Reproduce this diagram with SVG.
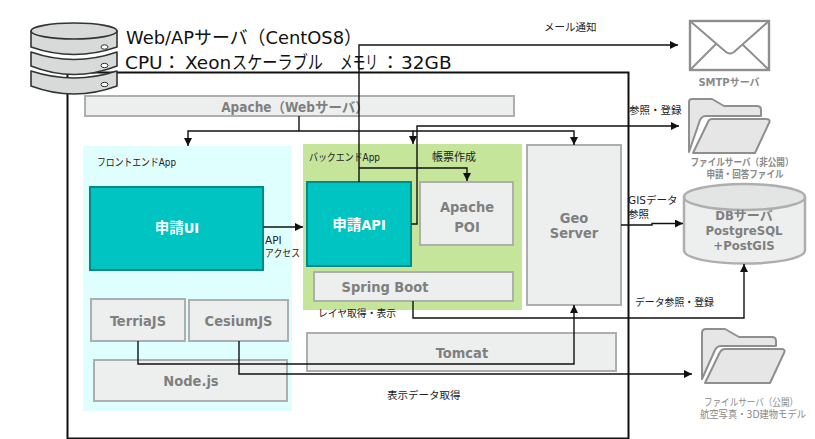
<svg xmlns="http://www.w3.org/2000/svg" width="815" height="439" viewBox="0 0 815 439">
<style>
text{font-family:"DejaVu Sans","Noto Sans CJK JP",sans-serif}
.g{fill:#edefef;stroke:#aeaeae;stroke-width:2}
.gt{font-family:"DejaVu Sans Condensed","DejaVu Sans","Noto Sans CJK JP",sans-serif;fill:#7f7f7f;font-weight:700;font-size:14.500px;text-anchor:middle}
.t{fill:#00c4c2;stroke:#008b8b;stroke-width:2}
.wt{font-family:"DejaVu Sans Condensed","DejaVu Sans","Noto Sans CJK JP",sans-serif;fill:#fff;font-weight:700;font-size:14.500px;text-anchor:middle}
.l{fill:#222;font-size:10.500px}
.c{fill:none;stroke:#111;stroke-width:1.400}
.k{fill:#d8d9d9;stroke:#333;stroke-width:1.600;stroke-linejoin:round}
.f{fill:#e6e6e6;stroke:#8f8f8f;stroke-width:2;stroke-linejoin:round}
.cap{fill:#8a8a8a;font-weight:700;font-size:10px;text-anchor:middle}
.h{fill:#fff;stroke:#333}
</style>
<defs>
<marker id="a" markerUnits="userSpaceOnUse" markerWidth="9" markerHeight="9" refX="8" refY="4" orient="auto"><path d="M0 0L8 4L0 8z" fill="#111"/></marker>
</defs>
<rect width="815" height="439" fill="#fff"/>
<g id="server-frame"><rect x="67.500" y="72.500" width="561" height="366" fill="#fff" stroke="#111" stroke-width="2"/></g>
<g id="server-icon">
<path class="k" d="M31 71Q74 85 117 71V86Q74 102 31 86Z"/>
<path class="k" d="M31 52Q74 67 117 52V66Q74 83 31 66Z"/>
<path class="k" d="M31 31V47Q74 62 117 47V31Z"/>
<ellipse class="k" cx="74" cy="31" rx="43" ry="8"/>
<ellipse class="h" cx="104.500" cy="47" rx="3.500" ry="2.200"/>
<ellipse class="h" cx="104.500" cy="65.500" rx="3.500" ry="2.200"/>
<ellipse class="h" cx="104.500" cy="84.500" rx="3.500" ry="2.200"/>
</g>
<g id="server-title">
<text x="126" y="44" font-size="18.500" fill="#111" textLength="236" lengthAdjust="spacingAndGlyphs">Web/APサーバ（CentOS8）</text>
<text y="69" font-size="18.500" fill="#111"><tspan x="125">CPU：</tspan><tspan x="185">Xeon</tspan><tspan x="232" textLength="91" lengthAdjust="spacingAndGlyphs">スケーラブル</tspan><tspan x="340" textLength="38" lengthAdjust="spacingAndGlyphs">メモリ</tspan><tspan x="381">：</tspan><tspan x="401">32GB</tspan></text>
</g>
<g id="apache"><rect class="g" x="85" y="96" width="429" height="20"/><text class="gt" x="295" y="112" style="font-size:13.500px">Apache（Webサーバ）</text></g>
<g id="frontend"><rect x="83" y="146" width="209" height="265" fill="#dfffff"/><text class="l" x="97" y="166" textLength="79" lengthAdjust="spacingAndGlyphs">フロントエンドApp</text></g>
<g id="backend"><rect x="303" y="144" width="219" height="166" fill="#c5e59b"/><text class="l" x="309" y="161" textLength="71" lengthAdjust="spacingAndGlyphs">バックエンドApp</text><text class="l" x="432" y="161" style="font-size:11px">帳票作成</text></g>
<g id="ui"><rect class="t" x="90" y="187" width="173" height="83"/><text class="wt" x="177" y="233">申請UI</text></g>
<g id="api"><rect class="t" x="307" y="182" width="104" height="84"/><text class="wt" x="359" y="230">申請API</text></g>
<g id="poi"><rect class="g" x="420" y="182" width="93" height="63"/><text class="gt" x="467" y="212">Apache</text><text class="gt" x="467" y="232">POI</text></g>
<g id="spring"><rect class="g" x="314" y="272" width="199" height="29"/><text class="gt" x="385" y="292">Spring Boot</text></g>
<g id="geoserver"><rect class="g" x="527" y="145" width="94" height="160"/><text class="gt" x="574" y="223">Geo</text><text class="gt" x="574" y="238">Server</text></g>
<g id="tomcat"><rect class="g" x="307" y="333" width="309" height="38"/><text class="gt" x="462" y="358">Tomcat</text></g>
<g id="terria"><rect class="g" x="91" y="299" width="94" height="42"/><text class="gt" x="138" y="326">TerriaJS</text></g>
<g id="cesium"><rect class="g" x="189" y="300" width="99" height="41"/><text class="gt" x="238.500" y="326">CesiumJS</text></g>
<g id="node"><rect class="g" x="94" y="360" width="193" height="41"/><text class="gt" x="191" y="386">Node.js</text></g>
<g id="smtp"><rect x="690" y="21" width="79" height="49" fill="#fff" stroke="#8f8f8f" stroke-width="2.400"/><path fill="none" stroke="#8f8f8f" stroke-width="2" d="M690 21L726 52Q730 55 734 52L769 21M690 70L716 44M769 70L742 44"/><text class="cap" x="729" y="86">SMTPサーバ</text></g>
<g id="files-private"><path class="f" d="M689 152V102Q689 99 692 99H712L724 106H757Q761 106 761 110V116H706Q702 116 700 120Z"/><path class="f" d="M693 153L708 122Q709 119 712 119H766Q771 119 769 123L755 153Z"/><text class="cap" x="742" y="166" textLength="103" lengthAdjust="spacingAndGlyphs">ファイルサーバ（非公開）</text><text class="cap" x="745" y="178" textLength="77" lengthAdjust="spacingAndGlyphs">申請・回答ファイル</text></g>
<g id="db"><path style="fill:#edefef;stroke:#aeaeae;stroke-width:2.500" d="M684 197V250C684 268 805 268 805 250V197"/><ellipse cx="744.500" cy="197" rx="60.500" ry="13" fill="#e3e5e5" stroke="#aeaeae" stroke-width="2.500"/><text class="gt" x="744" y="220" style="font-size:13px">DBサーバ</text><text class="gt" x="744" y="235" style="font-size:13px">PostgreSQL</text><text class="gt" x="744" y="250" style="font-size:13px">+PostGIS</text></g>
<g id="files-public"><path class="f" d="M702 379V333Q702 329 706 329H725L739 337H772Q776 337 776 341V346H721Q717 346 715 350Z"/><path class="f" d="M705 383L720 352Q722 349 725 349H781Q786 349 784 353L770 383Z"/><text class="cap" x="751" y="406" style="font-weight:400" textLength="94" lengthAdjust="spacingAndGlyphs">ファイルサーバ（公開）</text><text class="cap" x="753" y="418" style="font-weight:400" textLength="106" lengthAdjust="spacingAndGlyphs">航空写真・3D建物モデル</text></g>
<g id="connectors">
<path class="c" d="M299 116V131"/>
<path class="c" d="M299 131H188V146" marker-end="url(#a)"/>
<path class="c" d="M299 131H413V144" marker-end="url(#a)"/>
<path class="c" d="M413 131H574V145" marker-end="url(#a)"/>
<path class="c" d="M359 182V45H678" marker-end="url(#a)"/>
<path class="c" d="M359 168H467V181" marker-end="url(#a)"/>
<path class="c" d="M411 224H417V126H679" marker-end="url(#a)"/>
<path class="c" d="M263 227L303 227" marker-end="url(#a)"/>
<path class="c" d="M621 225H652V223.500H683" marker-end="url(#a)"/>
<path class="c" d="M413 301V318H744V264" marker-end="url(#a)"/>
<path class="c" d="M138 341V364H574V305" marker-end="url(#a)"/>
<path class="c" d="M239 341V374H692" marker-end="url(#a)"/>
</g>
<g id="labels">
<text class="l" x="544" y="31">メール通知</text>
<text class="l" x="629" y="114">参照・登録</text>
<text class="l" x="628" y="204">GISデータ</text>
<text class="l" x="628" y="218">参照</text>
<text class="l" x="265" y="244">API</text>
<text class="l" x="265" y="257" textLength="35" lengthAdjust="spacingAndGlyphs">アクセス</text>
<text class="l" x="318" y="317" textLength="78" lengthAdjust="spacingAndGlyphs">レイヤ取得・表示</text>
<text class="l" x="635" y="306" textLength="79" lengthAdjust="spacingAndGlyphs">データ参照・登録</text>
<text class="l" x="387" y="399">表示データ取得</text>
</g>
</svg>
